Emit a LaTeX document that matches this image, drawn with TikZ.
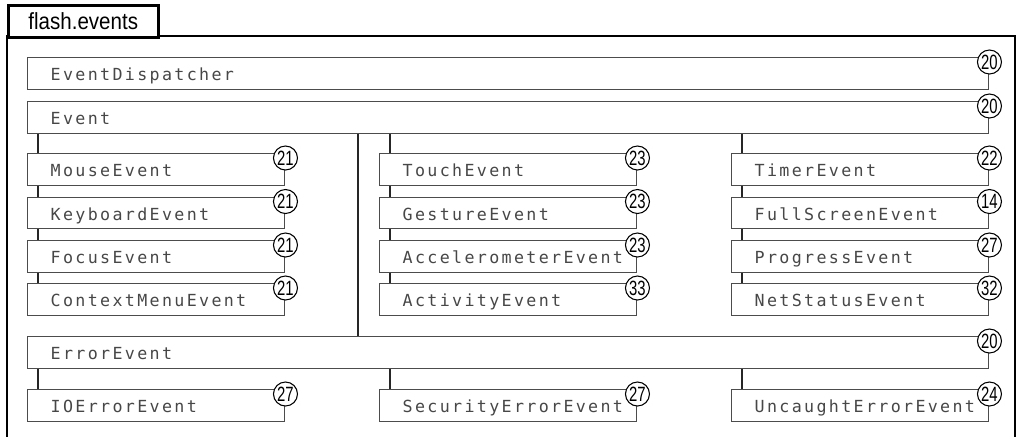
\documentclass[tikz,border=0pt]{standalone}
\usepackage{fontspec}
\setmainfont{Liberation Sans}
\newfontfamily\boxfont[LetterSpace=14]{DejaVu Sans Mono}
\newfontfamily\numfont[FakeStretch=0.72]{Liberation Sans}
\newfontfamily\tabfont[FakeStretch=0.88]{Liberation Sans}
\newdimen\pxu
\pxu=0.75pt

\tikzset{
  classbox/.style={rectangle, draw=black!70, line width=1.1pt, fill=white, anchor=north west,
    minimum height=31.5\pxu, inner xsep=23\pxu, inner ysep=0pt, align=left,
    text height=11pt, text depth=0pt, text=black!72,
    font=\boxfont\fontsize{12.5pt}{14pt}\selectfont},
  smallbox/.style={classbox, text width=211\pxu},
  widebox/.style={classbox, text width=915\pxu},
  pagebadge/.style={circle, draw=black, line width=0.8pt, fill=white, inner sep=0pt,
    minimum size=24\pxu, font=\numfont\fontsize{15.5pt}{16pt}\selectfont},
  inherit/.style={line width=2.2pt, black!85},
  frameline/.style={line width=1.9pt, black}
}

\begin{document}
\begin{tikzpicture}[x=0.75pt, y=-0.75pt]
\useasboundingbox (0,0) rectangle (1020,436);

% Package frame with tab
\draw[frameline] (7,437) -- (7,36) -- (1015,36) -- (1015,437);
\node[draw, frameline, fill=white, anchor=north west, minimum width=150\pxu, minimum height=32\pxu,
  inner sep=0pt, font=\tabfont\fontsize{17.5pt}{18pt}\selectfont] (tab) at (7,4) {flash.events};

% Top level classes
\node[widebox] (dispatcher) at (27,57) {EventDispatcher};
\node[pagebadge] (b-dispatcher) at ([yshift=-5\pxu]dispatcher.north east) {20};
\node[widebox] (event) at (27,101) {Event};
\node[pagebadge] (b-event) at ([yshift=-5\pxu]event.north east) {20};

% Column 1: user input events
\node[smallbox] (mouse) at (27,153) {MouseEvent};
\node[pagebadge] (b-mouse) at ([yshift=-5\pxu]mouse.north east) {21};
\node[smallbox] (keyboard) at (27,196.5) {KeyboardEvent};
\node[pagebadge] (b-keyboard) at ([yshift=-5\pxu]keyboard.north east) {21};
\node[smallbox] (focus) at (27,240) {FocusEvent};
\node[pagebadge] (b-focus) at ([yshift=-5\pxu]focus.north east) {21};
\node[smallbox] (context) at (27,283) {ContextMenuEvent};
\node[pagebadge] (b-context) at ([yshift=-5\pxu]context.north east) {21};

% Column 2: device events
\node[smallbox] (touch) at (379,153) {TouchEvent};
\node[pagebadge] (b-touch) at ([yshift=-5\pxu]touch.north east) {23};
\node[smallbox] (gesture) at (379,196.5) {GestureEvent};
\node[pagebadge] (b-gesture) at ([yshift=-5\pxu]gesture.north east) {23};
\node[smallbox] (accel) at (379,240) {AccelerometerEvent};
\node[pagebadge] (b-accel) at ([yshift=-5\pxu]accel.north east) {23};
\node[smallbox] (activity) at (379,283) {ActivityEvent};
\node[pagebadge] (b-activity) at ([yshift=-5\pxu]activity.north east) {33};

% Column 3: system events
\node[smallbox] (timer) at (731,153) {TimerEvent};
\node[pagebadge] (b-timer) at ([yshift=-5\pxu]timer.north east) {22};
\node[smallbox] (fullscreen) at (731,196.5) {FullScreenEvent};
\node[pagebadge] (b-fullscreen) at ([yshift=-5\pxu]fullscreen.north east) {14};
\node[smallbox] (progress) at (731,240) {ProgressEvent};
\node[pagebadge] (b-progress) at ([yshift=-5\pxu]progress.north east) {27};
\node[smallbox] (netstatus) at (731,283) {NetStatusEvent};
\node[pagebadge] (b-netstatus) at ([yshift=-5\pxu]netstatus.north east) {32};

% Error branch
\node[widebox] (error) at (27,336) {ErrorEvent};
\node[pagebadge] (b-error) at ([yshift=-5\pxu]error.north east) {20};
\node[smallbox] (ioerror) at (27,389) {IOErrorEvent};
\node[pagebadge] (b-ioerror) at ([yshift=-5\pxu]ioerror.north east) {27};
\node[smallbox] (security) at (379,389) {SecurityErrorEvent};
\node[pagebadge] (b-security) at ([yshift=-5\pxu]security.north east) {27};
\node[smallbox] (uncaught) at (731,389) {UncaughtErrorEvent};
\node[pagebadge] (b-uncaught) at ([yshift=-5\pxu]uncaught.north east) {24};

% Inheritance lines below Event
\draw[inherit] ([xshift=11\pxu]mouse.north west) -- ([xshift=11\pxu]mouse.north west |- event.south);
\draw[inherit] ([xshift=11\pxu]mouse.south west) -- ([xshift=11\pxu]keyboard.north west);
\draw[inherit] ([xshift=11\pxu]keyboard.south west) -- ([xshift=11\pxu]focus.north west);
\draw[inherit] ([xshift=11\pxu]focus.south west) -- ([xshift=11\pxu]context.north west);

\draw[inherit] ([xshift=11\pxu]touch.north west) -- ([xshift=11\pxu]touch.north west |- event.south);
\draw[inherit] ([xshift=11\pxu]touch.south west) -- ([xshift=11\pxu]gesture.north west);
\draw[inherit] ([xshift=11\pxu]gesture.south west) -- ([xshift=11\pxu]accel.north west);
\draw[inherit] ([xshift=11\pxu]accel.south west) -- ([xshift=11\pxu]activity.north west);

\draw[inherit] ([xshift=11\pxu]timer.north west) -- ([xshift=11\pxu]timer.north west |- event.south);
\draw[inherit] ([xshift=11\pxu]timer.south west) -- ([xshift=11\pxu]fullscreen.north west);
\draw[inherit] ([xshift=11\pxu]fullscreen.south west) -- ([xshift=11\pxu]progress.north west);
\draw[inherit] ([xshift=11\pxu]progress.south west) -- ([xshift=11\pxu]netstatus.north west);

% Divider between column 1 and 2
\draw[inherit] ([xshift=331\pxu]event.south west) -- ([xshift=331\pxu]event.south west |- error.north);

% Inheritance lines below ErrorEvent
\draw[inherit] ([xshift=11\pxu]ioerror.north west) -- ([xshift=11\pxu]ioerror.north west |- error.south);
\draw[inherit] ([xshift=11\pxu]security.north west) -- ([xshift=11\pxu]security.north west |- error.south);
\draw[inherit] ([xshift=11\pxu]uncaught.north west) -- ([xshift=11\pxu]uncaught.north west |- error.south);

\end{tikzpicture}
\end{document}
